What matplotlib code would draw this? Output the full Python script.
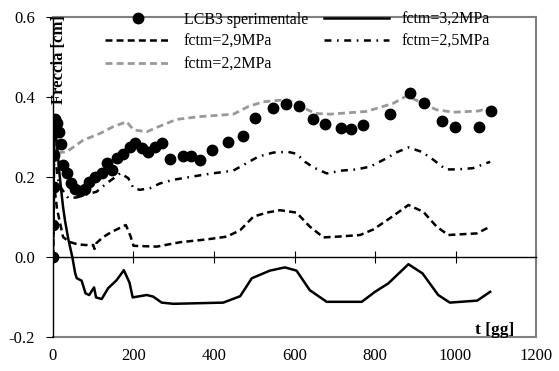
import matplotlib
matplotlib.use("Agg")
import matplotlib.pyplot as plt

plt.rcParams['font.family'] = ['Liberation Serif', 'DejaVu Serif']
plt.rcParams['lines.scale_dashes'] = False

# experimental points
exp_t = [0, 1, 2, 3, 4, 10, 15, 19, 26, 34, 44, 55, 67, 80, 90, 104, 121, 133,
         146, 160, 175, 191, 204, 220, 237, 253, 270, 291, 324, 342, 365, 396,
         436, 471, 502, 546, 579, 612, 645, 676, 716, 740, 771, 836, 887, 922,
         966, 999, 1059, 1088]
exp_f = [0, 0.08, 0.174, 0.255, 0.345, 0.334, 0.313, 0.282, 0.23, 0.209, 0.186,
         0.17, 0.166, 0.17, 0.188, 0.199, 0.209, 0.234, 0.218, 0.247, 0.258,
         0.276, 0.286, 0.272, 0.263, 0.276, 0.285, 0.244, 0.252, 0.252, 0.243,
         0.268, 0.288, 0.303, 0.347, 0.372, 0.383, 0.378, 0.344, 0.332, 0.322,
         0.32, 0.33, 0.357, 0.409, 0.386, 0.341, 0.326, 0.326, 0.366]

# fctm = 3,2 MPa
t32 = [0, 3, 10, 15, 20, 25, 30, 38, 48, 55, 59, 71, 81, 90, 102, 107, 121, 137,
       158, 176, 190, 198, 233, 249, 270, 299, 423, 465, 494, 539, 576, 605, 638,
       680, 767, 800, 833, 883, 918, 957, 986, 1054, 1086]
f32 = [0, 0.34, 0.28, 0.22, 0.17, 0.125, 0.09, 0.045, 0.0, -0.04, -0.053, -0.059,
       -0.091, -0.095, -0.076, -0.101, -0.105, -0.078, -0.058, -0.033, -0.064,
       -0.101, -0.095, -0.099, -0.114, -0.117, -0.114, -0.098, -0.053, -0.034,
       -0.026, -0.034, -0.083, -0.112, -0.112, -0.087, -0.066, -0.018, -0.041,
       -0.095, -0.114, -0.109, -0.087]

# fctm = 2,9 MPa
t29 = [0, 3, 10, 25, 40, 60, 80, 100, 103, 108, 125, 146, 171, 181, 193, 200, 258,
       316, 382, 432, 465, 498, 531, 564, 605, 638, 672, 709, 763, 796, 837, 883,
       920, 953, 982, 1053, 1086]
f29 = [0, 0.18, 0.12, 0.05, 0.038, 0.032, 0.03, 0.03, 0.02, 0.035, 0.05, 0.063,
       0.075, 0.08, 0.051, 0.028, 0.026, 0.037, 0.044, 0.051, 0.067, 0.101, 0.111,
       0.117, 0.111, 0.076, 0.049, 0.051, 0.055, 0.069, 0.097, 0.13, 0.113, 0.076,
       0.055, 0.059, 0.076]

# fctm = 2,5 MPa
t25 = [0, 3, 15, 38, 59, 92, 108, 133, 162, 167, 187, 200, 216, 241, 266, 299, 340,
       382, 448, 473, 510, 547, 583, 605, 626, 647, 680, 717, 754, 788, 829, 852,
       883, 916, 945, 976, 1003, 1043, 1086]
f25 = [0, 0.26, 0.18, 0.147, 0.149, 0.159, 0.163, 0.184, 0.205, 0.21, 0.197, 0.172,
       0.168, 0.172, 0.184, 0.193, 0.2, 0.207, 0.216, 0.23, 0.251, 0.261, 0.263,
       0.258, 0.238, 0.224, 0.209, 0.216, 0.219, 0.226, 0.247, 0.261, 0.274, 0.263,
       0.243, 0.219, 0.219, 0.222, 0.238]

# fctm = 2,2 MPa
t22 = [0, 3, 8, 34, 75, 117, 150, 183, 200, 233, 258, 307, 365, 448, 485, 522, 564,
       585, 651, 688, 779, 845, 879, 953, 995, 1057, 1081]
f22 = [0, 0.35, 0.26, 0.263, 0.292, 0.309, 0.326, 0.338, 0.318, 0.313, 0.324, 0.344,
       0.351, 0.357, 0.376, 0.388, 0.392, 0.392, 0.359, 0.357, 0.364, 0.384, 0.403,
       0.368, 0.362, 0.365, 0.372]

fig = plt.figure(figsize=(5.59, 3.71), dpi=100)
ax = fig.add_axes([0.0948, 0.0916, 0.8641, 0.8626])

gray = '#999999'
l22, = ax.plot(t22, f22, color=gray, lw=2, dashes=(5, 3))
l25, = ax.plot(t25, f25, color='black', lw=1.8, dashes=(5, 4, 1.2, 4))
l29, = ax.plot(t29, f29, color='black', lw=1.8, dashes=(5, 3))
l32, = ax.plot(t32, f32, color='black', lw=1.8)
pexp, = ax.plot(exp_t, exp_f, 'o', color='black', markersize=7.5, zorder=5)

ax.set_xlim(0, 1200)
ax.set_ylim(-0.2, 0.6)

# x axis drawn at y=0, labels on the bottom border
ax.spines['bottom'].set_position(('data', 0))
ax.spines['bottom'].set_linewidth(1)
ax.set_xticks([200, 400, 600, 800, 1000, 1200])
ax.tick_params(axis='x', direction='inout', length=8, labelbottom=False)
sec = ax.secondary_xaxis(0.0)
sec.set_xticks([0, 200, 400, 600, 800, 1000, 1200])
sec.tick_params(axis='x', length=0, labelsize=12, pad=8)
sec.spines['bottom'].set_color('#808080')
sec.spines['bottom'].set_linewidth(1.5)

for s in ['top', 'right']:
    ax.spines[s].set_color('#808080')
    ax.spines[s].set_linewidth(1.5)
ax.spines['left'].set_linewidth(1)
ax.set_yticks([-0.2, 0.0, 0.2, 0.4, 0.6])
ax.set_yticklabels(['-0.2', '0.0', '0.2', '0.4', '0.6'])
ax.tick_params(axis='y', direction='out', length=5, labelsize=12, pad=8)

ax.text(15, 0.605, 'Freccia [cm]', rotation=90, ha='center', va='top',
        fontsize=12, fontweight='bold')
ax.text(1098, -0.193, 't [gg]', ha='center', va='baseline',
        fontsize=12.5, fontweight='bold')

handles = [pexp, l29, l22, l32, l25]
labels = ['LCB3 sperimentale', 'fctm=2,9MPa', 'fctm=2,2MPa',
          'fctm=3,2MPa', 'fctm=2,5MPa']
fig.legend(handles, labels, ncol=2, loc='upper left',
           bbox_to_anchor=(0.174, 0.99), frameon=False, fontsize=11.5,
           borderpad=0, handlelength=4.1, handletextpad=0.8,
           columnspacing=1.0, labelspacing=0.4)

plt.savefig('out.png', dpi=100)
